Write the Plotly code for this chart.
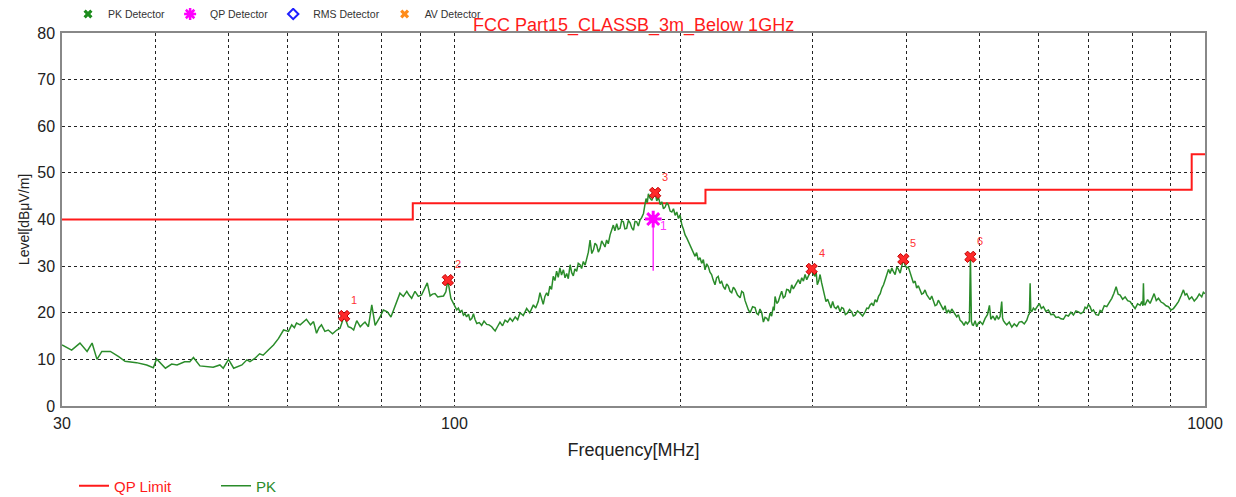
import math
import plotly.graph_objects as go

# ---------------- data ----------------
# QP limit (FCC Part 15 Class B, 3 m)
limit_freq = [30, 88, 216, 960, 1000]
limit_level = [40.0, 43.5, 46.4, 54.0, 54.0]

# PK scan trace (MHz, dBuV/m)
pk_freq_low = [30.0, 30.9, 31.7, 32.4, 32.9, 33.4, 33.9, 34.8, 35.7, 36.4, 37.7, 38.9, 39.7, 40.1,
               41.2, 42.0, 42.7, 43.7, 44.4, 44.9, 45.8, 47.7, 48.7, 49.2, 50.0, 50.8, 52.1, 52.9,
               53.4, 54.2, 55.0, 55.6, 56.5, 57.4, 58.3, 59.2, 60.1, 60.7, 61.2, 61.6, 62.3, 62.9,
               63.5, 64.3, 64.9, 65.5, 66.0, 66.5, 67.2, 67.9, 68.8, 69.7, 70.4, 71.3, 72.2, 72.8,
               73.4, 74.1]
pk_level_low = [13.1, 12.0, 13.5, 11.7, 13.5, 10.0, 11.7, 11.7, 10.6, 9.6, 9.3, 8.8, 8.2, 10.1,
                8.1, 9.0, 8.8, 9.5, 9.5, 10.4, 8.6, 8.3, 8.8, 8.1, 10.0, 8.1, 8.8, 9.9,
                9.5, 10.2, 11.2, 10.9, 12.0, 13.1, 14.5, 16.3, 16.0, 17.4, 16.8, 17.8, 17.4, 18.1,
                18.6, 17.4, 18.1, 15.6, 16.8, 17.4, 16.0, 16.3, 15.5, 16.3, 16.7, 19.3, 17.0, 16.8,
                16.3, 18.3]

pk_freq_mid = [74.9, 75.5, 76.0, 76.8, 77.6, 78.4, 79.0, 79.6, 80.4, 81.4, 82.3, 83.4, 84.0, 84.6,
               85.5, 86.4, 87.0, 87.7, 88.6, 89.5, 90.4, 91.1, 92.0, 92.8, 93.5, 94.2, 95.0, 95.7,
               96.7, 97.4, 98.0, 98.9, 99.7, 100.2, 100.7, 101.2, 101.7, 102.3, 102.8, 103.3, 103.8,
               104.4, 104.9, 105.5, 106.0, 106.5, 107.1, 107.9, 108.7, 109.5, 110.4, 111.2, 112.1,
               112.7, 113.3, 114.1, 115.0, 115.9, 116.8, 117.7, 118.6, 119.5, 120.5, 121.4, 122.3,
               123.5, 124.8, 126.0, 127.4, 128.3, 129.3]
pk_level_mid = [17.0, 17.6, 18.0, 17.0, 21.7, 17.3, 18.2, 19.1, 20.6, 20.2, 19.1, 21.7, 22.8, 24.2,
                23.5, 24.6, 23.8, 23.1, 24.6, 23.5, 23.8, 24.9, 26.4, 23.6, 24.0, 24.1, 23.4, 23.5,
                23.6, 24.5, 27.0, 23.1, 22.0, 21.5, 20.6, 21.0, 20.2, 20.5, 19.5, 19.8, 19.1,
                19.7, 18.4, 18.8, 19.8, 18.6, 17.7, 17.9, 17.3, 18.2, 17.5, 17.4, 17.0,
                16.5, 16.1, 17.0, 18.0, 17.2, 18.4, 18.0, 18.8, 18.2, 19.1, 18.5, 20.0,
                19.4, 20.9, 20.0, 21.7, 21.0, 22.4]

pk_freq_peak = [130.0, 130.6, 131.3, 132.0, 132.7, 133.3, 134.0, 134.7, 135.4, 136.1, 136.8, 137.5,
                138.2, 138.9, 139.7, 140.4, 141.1, 141.8, 142.6, 143.3, 144.0, 144.7, 145.5, 146.2,
                147.0, 147.7, 148.5, 149.3, 150.1, 150.8, 151.6, 152.4, 153.2, 153.9, 154.7, 155.5,
                156.3, 157.1, 157.9, 158.7, 159.5, 160.3, 161.2, 162.0, 162.8, 163.6, 164.5, 165.3,
                166.2, 167.0, 167.9, 168.7, 169.6, 170.5, 171.4, 172.3, 173.2, 174.0, 174.9, 175.8,
                176.7, 177.6, 178.6, 179.3, 180.0, 180.7, 181.3, 182.2, 183.2, 184.1, 185.1, 186.0,
                187.0, 188.0, 188.9, 189.9, 190.9, 191.8, 192.8, 193.8, 194.8, 195.8, 196.8, 197.8,
                198.8, 199.8, 200.9, 201.9, 202.9, 204.0, 205.0, 206.0, 207.1, 208.1, 209.2, 210.2,
                211.3, 212.4, 213.5, 214.6, 215.7, 216.8, 217.9, 219.0, 220.1, 221.2, 222.4, 223.5,
                224.6, 225.8, 227.0, 228.2, 229.4, 230.5, 231.7, 232.9, 234.1, 235.3, 236.5, 238.3,
                240.2, 241.4, 242.6, 243.9, 245.2, 246.4, 247.7, 249.6, 251.5, 252.7, 254.0, 255.3,
                256.7]
pk_level_peak = [24.3, 23.0, 21.8, 23.5, 24.3, 23.6, 25.7, 25.0, 27.8, 26.9, 28.9, 27.6,
                 29.6, 28.1, 29.2, 27.5, 28.4, 27.3, 30.3, 28.6, 27.9, 29.4, 28.9, 30.6,
                 30.3, 29.5, 31.0, 30.2, 31.7, 33.0, 35.6, 32.7, 33.5, 34.9, 34.5, 33.0,
                 33.8, 35.4, 34.8, 34.1, 35.6, 34.8, 36.7, 37.9, 38.8, 37.6, 39.1, 37.9,
                 38.1, 39.7, 39.5, 38.0, 38.1, 39.8, 39.3, 38.2, 37.7, 39.6, 39.5, 38.6,
                 39.9, 40.4, 41.3, 43.0, 44.5, 43.6, 45.5, 44.6, 44.1, 45.0, 45.7, 44.0,
                 44.8, 43.2, 43.8, 42.3, 42.7, 43.6, 43.1, 41.8, 41.6, 42.3, 40.9, 41.6,
                 40.2, 41.0, 38.8, 37.9, 36.7, 36.0, 35.2, 34.7, 33.8, 33.0, 32.1, 32.9,
                 31.3, 31.8, 30.6, 31.4, 29.2, 30.5, 29.9, 28.7, 28.2, 27.0, 26.0, 27.5,
                 27.8, 26.3, 26.7, 25.6, 25.0, 26.2, 25.7, 24.6, 24.3, 25.5, 25.0, 23.8,
                 23.2, 24.6, 24.3, 22.6, 21.4, 20.6, 20.0, 21.3, 21.1, 19.9, 19.6, 20.8,
                 20.0]

pk_freq_upper = [258.0, 259.3, 260.7, 262.0, 263.3, 264.6, 266.0, 266.7, 267.4, 268.8, 270.1, 271.5,
                 272.9, 274.3, 275.7, 277.1, 278.6, 280.0, 281.4, 282.8, 284.3, 285.8, 287.3, 288.7,
                 290.2, 291.7, 293.2, 294.7, 296.2, 297.7, 299.2, 300.7, 302.3, 303.3, 304.4, 305.7,
                 307.0, 308.5, 310.1, 311.3, 312.6, 314.2, 315.8, 317.4, 319.1, 320.7, 322.4, 324.4,
                 326.4, 328.1, 329.8, 331.8, 333.8, 336.0, 338.3, 340.0, 341.8, 344.4, 347.1, 349.8,
                 352.5, 354.3, 356.1, 358.0, 359.8, 361.6, 363.5, 365.4, 367.3, 369.2, 371.1, 373.0,
                 374.9, 376.8, 378.7, 380.6, 382.6, 384.5, 386.5, 388.5, 390.5, 392.5, 394.5, 396.4,
                 398.5, 400.5, 402.5, 404.6, 406.7, 408.8, 410.9, 412.9, 415.0, 417.2, 419.3, 421.5,
                 423.6, 425.8, 428.0, 430.2, 432.4, 434.6, 436.9, 439.1, 441.3, 443.6, 445.9, 448.2,
                 450.5, 452.8, 455.2, 457.5, 459.8, 462.1, 464.5, 466.9, 469.3, 471.7, 474.6, 477.5,
                 480.0, 482.4, 485.4, 486.9, 488.4, 489.9, 491.4, 494.0, 496.4, 499.0, 501.5, 505.5]
pk_level_upper = [18.0, 19.0, 18.8, 18.2, 19.9, 19.3, 21.3, 20.5, 23.5, 22.0, 22.4, 23.6,
                  24.6, 23.2, 23.5, 25.0, 24.9, 24.2, 26.0, 25.1, 25.7, 26.6, 27.1, 26.2,
                  27.5, 26.8, 28.2, 27.1, 27.8, 28.5, 29.4, 28.3, 27.8, 28.8, 26.0, 26.8,
                  28.2, 26.4, 24.6, 23.5, 22.4, 22.9, 21.7, 21.0, 22.4, 21.2, 20.9, 21.5,
                  20.2, 21.1, 20.9, 19.6, 19.9, 20.7, 20.2, 19.3, 19.5, 20.4, 19.9, 19.3,
                  20.2, 21.0, 20.9, 21.7, 22.0, 21.5, 22.8, 22.3, 23.5, 24.1, 25.3, 26.0,
                  27.1, 28.0, 29.3, 28.4, 29.6, 28.8, 28.2, 29.8, 29.3, 28.5, 30.4, 31.5,
                  30.2, 29.6, 29.8, 28.6, 27.5, 26.4, 26.8, 25.3, 25.8, 24.9, 24.0, 24.2,
                  24.9, 23.9, 23.2, 22.8, 23.6, 22.4, 21.5, 21.7, 22.7, 22.0, 21.1, 20.6,
                  21.5, 19.9, 20.6, 19.9, 20.8, 20.2, 19.4, 19.1, 19.6, 18.4, 18.0, 17.3,
                  18.1, 17.6, 18.2, 32.0, 18.1, 17.4, 17.3, 18.3, 17.0, 17.8, 18.1, 17.5]

pk_freq_high = [509.4, 513.0, 516.2, 517.3, 518.4, 521.8, 525.2, 527.9, 530.5, 533.3, 536.0, 537.4,
                538.8, 541.5, 544.3, 548.5, 552.8, 557.0, 561.3, 565.6, 570.0, 574.4, 578.8, 581.8,
                583.5, 584.8, 586.0, 587.7, 590.7, 593.7, 597.6, 601.6, 605.3, 609.1, 613.8, 618.5,
                623.3, 628.1, 633.0, 637.9, 642.7, 647.6, 652.6, 657.7, 662.8, 667.9, 673.0, 678.2,
                683.4, 688.7, 692.2, 695.8, 699.4, 703.0, 706.6, 710.2, 715.7, 721.2, 724.9, 728.6,
                734.2, 739.9, 745.6, 751.3, 756.3, 761.4, 766.1, 770.8, 776.7, 782.7, 788.7, 794.8,
                800.9, 807.0, 813.2, 819.5, 823.7, 826.5, 827.9, 829.3, 832.1, 838.5, 845.0, 850.2,
                855.5, 861.2, 867.0, 873.7, 880.4, 887.2, 894.0, 900.8, 907.7, 914.7, 921.8, 928.9,
                936.0, 940.8, 945.6, 952.9, 960.2, 967.6, 975.0, 982.5, 990.0, 995.0, 1000.0]
pk_level_high = [18.8, 19.6, 21.6, 19.0, 18.6, 19.3, 18.4, 19.4, 18.6, 19.2, 22.4, 18.9,
                 18.3, 17.8, 17.4, 18.0, 16.9, 17.6, 17.1, 18.0, 18.1, 17.6, 18.4, 19.5,
                 19.8, 26.3, 20.5, 20.2, 21.0, 20.6, 21.4, 22.0, 20.9, 21.3, 20.3, 20.6,
                 19.6, 19.7, 19.0, 19.1, 18.7, 18.6, 19.5, 19.3, 20.1, 19.5, 20.4, 20.2,
                 19.8, 20.2, 21.2, 20.9, 21.8, 21.3, 20.3, 20.6, 19.6, 19.5, 20.5, 20.2,
                 21.5, 21.3, 22.2, 23.1, 24.2, 25.6, 24.0, 23.8, 22.9, 23.4, 22.6, 22.4,
                 21.6, 20.9, 21.9, 21.6, 22.4, 21.5, 26.3, 21.8, 21.7, 22.8, 22.0, 23.1,
                 24.1, 22.6, 23.1, 22.3, 22.0, 21.5, 21.3, 20.6, 20.9, 21.6, 22.4, 23.6,
                 24.9, 23.8, 24.1, 22.9, 23.4, 22.5, 23.1, 24.0, 23.4, 24.4, 24.1]

pk_freq = pk_freq_low + pk_freq_mid + pk_freq_peak + pk_freq_upper + pk_freq_high
pk_level = pk_level_low + pk_level_mid + pk_level_peak + pk_level_upper + pk_level_high

# PK detector markers
pk_mark_freq = [71.3, 98.0, 185.1, 299.2, 396.4, 486.9]
pk_mark_level = [19.3, 27.0, 45.7, 29.4, 31.5, 32.0]
pk_mark_label = ["1", "2", "3", "4", "5", "6"]

# QP detector marker
qp_freq = [184.0]
qp_level = [40.1]
qp_floor = [29.0]
qp_label = ["1"]

x_tickvals = [30, 40, 50, 60, 70, 80, 90, 100, 200, 300, 400, 500, 600, 700, 800, 900, 1000]
x_ticktext = ["30", "", "", "", "", "", "", "100", "", "", "", "", "", "", "", "", "1000"]

title_text = "FCC Part15_CLASSB_3m_Below 1GHz"

# ---------------- figure ----------------
FONT = "Liberation Sans, Arial, sans-serif"
W, H = 1228, 489          # page body adds an 8 px offset
fig = go.Figure()

# top legend (detector key)
fig.add_trace(go.Scatter(x=[None], y=[None], mode="markers", name="PK Detector",
                         marker=dict(symbol="x", size=8, color="#1e8c1e"), legend="legend"))
fig.add_trace(go.Scatter(x=[None], y=[None], mode="markers", name="QP Detector",
                         marker=dict(symbol="asterisk-open", size=10, color="#ff00ff",
                                     line=dict(color="#ff00ff", width=2.5)), legend="legend"))
fig.add_trace(go.Scatter(x=[None], y=[None], mode="markers", name="RMS Detector",
                         marker=dict(symbol="diamond-open", size=8, color="#1f1fff",
                                     line=dict(color="#1f1fff", width=2)), legend="legend"))
fig.add_trace(go.Scatter(x=[None], y=[None], mode="markers", name="AV Detector",
                         marker=dict(symbol="x", size=8, color="#ff8c1a"), legend="legend"))

# limit line
fig.add_trace(go.Scatter(x=limit_freq, y=limit_level, mode="lines", line_shape="hv",
                         name="QP Limit", line=dict(color="#ff1a1a", width=2), legend="legend2"))
# PK trace
fig.add_trace(go.Scatter(x=pk_freq, y=pk_level, mode="lines", name="PK",
                         line=dict(color="#2a8c2a", width=1.5), legend="legend3"))

# QP stick + marker
fig.add_trace(go.Scatter(x=qp_freq * 2, y=qp_level + qp_floor, mode="lines",
                         line=dict(color="#ff33ff", width=1.5), showlegend=False))
fig.add_trace(go.Scatter(x=qp_freq, y=qp_level, mode="markers", showlegend=False,
                         marker=dict(symbol="asterisk-open", size=14, color="#ff00ff",
                                     line=dict(color="#ff00ff", width=3))))
fig.add_trace(go.Scatter(x=qp_freq, y=qp_level, mode="markers", showlegend=False,
                         marker=dict(symbol="circle", size=8, color="#ff00ff")))

# PK markers
fig.add_trace(go.Scatter(x=pk_mark_freq, y=pk_mark_level, mode="markers", showlegend=False,
                         marker=dict(symbol="x", size=10, color="#ff2a2a",
                                     line=dict(color="#c00000", width=1))))

PL, PR, PT, PB = 54, 31, 25, 91
plot_w, plot_h = W - PL - PR, H - PT - PB

annotations = []
for f, lv, t in zip(pk_mark_freq, pk_mark_level, pk_mark_label):
    annotations.append(dict(x=math.log10(f), y=lv, text=t, showarrow=False, xshift=10, yshift=16,
                            font=dict(family=FONT, size=11, color="#ff3333")))
for f, lv, t in zip(qp_freq, qp_level, qp_label):
    annotations.append(dict(x=math.log10(f), y=lv, text=t, showarrow=False, xshift=10, yshift=-7,
                            font=dict(family=FONT, size=12, color="#ff33ff")))
annotations.append(dict(xref="paper", yref="paper", x=(625 - PL) / plot_w,
                        y=(H - PB - 18) / plot_h, xanchor="center", yanchor="middle",
                        text=title_text, showarrow=False,
                        font=dict(family=FONT, size=18, color="#ff1a1a")))
fig.update_layout(annotations=annotations)

fig.update_layout(
    width=W, height=H,
    margin=dict(l=PL, r=PR, t=PT, b=PB, autoexpand=False),
    paper_bgcolor="white", plot_bgcolor="white",
    font=dict(family=FONT, color="#222222"),
    legend=dict(orientation="h", xref="container", yref="container",
                x=60 / W, xanchor="left", y=1 - 6 / H, yanchor="middle",
                font=dict(size=10.5, color="#333333"), bgcolor="rgba(0,0,0,0)"),
    legend2=dict(orientation="h", xref="container", yref="container",
                 x=66 / W, xanchor="left", y=1 - 478 / H, yanchor="middle",
                 font=dict(size=15, color="#ff1a1a"), bgcolor="rgba(0,0,0,0)"),
    legend3=dict(orientation="h", xref="container", yref="container",
                 x=208 / W, xanchor="left", y=1 - 478 / H, yanchor="middle",
                 font=dict(size=15, color="#2a8c2a"), bgcolor="rgba(0,0,0,0)"),
    xaxis=dict(type="log", range=[math.log10(30), 3], tickvals=x_tickvals, ticktext=x_ticktext,
               showgrid=True, gridcolor="#222222", griddash="dot", gridwidth=1,
               showline=True, linecolor="#888888", linewidth=1.5, mirror=True,
               ticks="", tickfont=dict(size=16, color="#222222"), automargin=False,
               ticklabelstandoff=2,
               title=dict(text="Frequency[MHz]", font=dict(size=18, color="#222222"), standoff=12),
               zeroline=False),
    yaxis=dict(range=[0, 80], dtick=10, showgrid=True, gridcolor="#222222", griddash="dot",
               gridwidth=1, showline=True, linecolor="#888888", linewidth=1.5, mirror=True,
               ticks="", tickfont=dict(size=16, color="#222222"), automargin=False,
               ticklabelstandoff=2,
               title=dict(text="Level[dBμV/m]", font=dict(size=14, color="#222222"), standoff=4),
               zeroline=False),
    showlegend=True,
)

fig.write_html("out.html")
